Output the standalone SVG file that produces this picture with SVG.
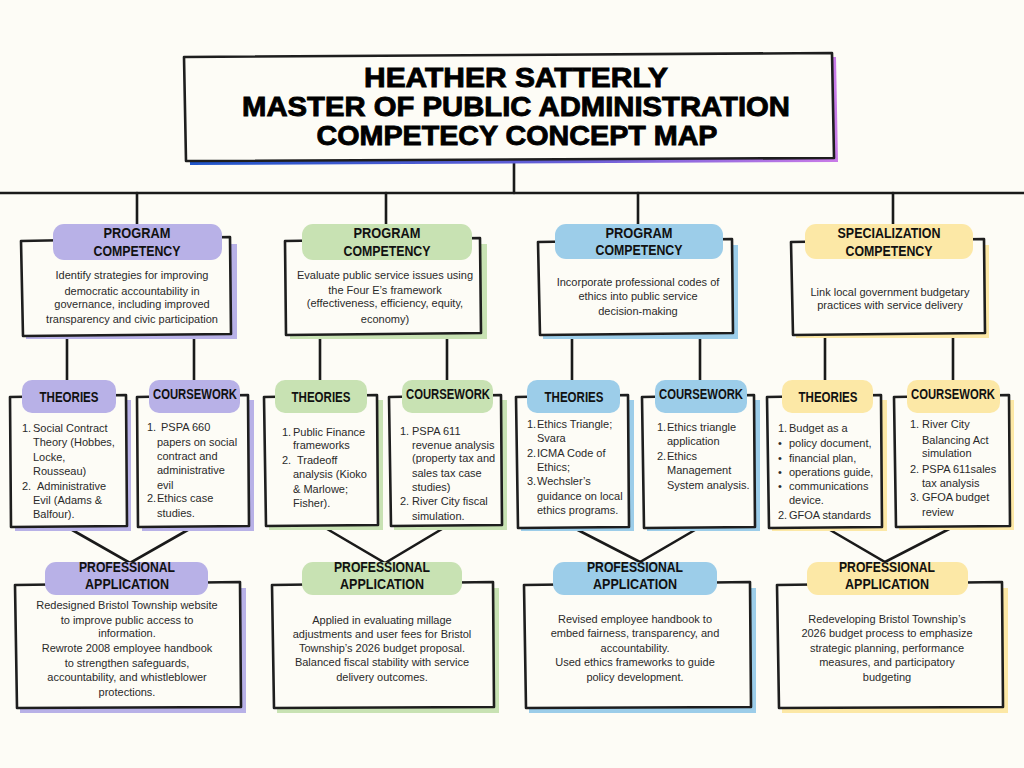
<svg xmlns="http://www.w3.org/2000/svg" width="1024" height="768" viewBox="0 0 1024 768">
<style>
.bg{fill:#fdfcf6}
.box{fill:#fdfcf6;stroke:#1e1e1e;stroke-width:2.6;stroke-linejoin:round}
.conn{stroke:#1a1a1a;stroke-width:2.6;fill:none;stroke-linecap:round}
.pu{fill:#b8b1e7}.gr{fill:#c8e2b3}.bl{fill:#9ccde9}.ye{fill:#fce8a6}
.hd{font-family:"Liberation Sans",Arial,sans-serif;font-weight:bold;font-size:15px;fill:#111;text-anchor:middle}
.tt{font-family:"Liberation Sans",Arial,sans-serif;font-weight:900;font-size:28px;fill:#000;stroke:#000;stroke-width:0.9;text-anchor:middle}
.tx{font-family:"Liberation Sans",Arial,sans-serif;font-size:11px;fill:#2a2a2a}
.m{text-anchor:middle}
</style>
<defs>
<linearGradient id="tg" x1="0" y1="0" x2="1" y2="0">
<stop offset="0" stop-color="#1f55c9"/>
<stop offset="0.6" stop-color="#6a5fd8"/>
<stop offset="1" stop-color="#c97be8"/>
</linearGradient>
</defs>
<rect class="bg" x="0" y="0" width="1024" height="768"/>

<g id="connectors">
<path class="conn" d="M514,160 L514,193"/>
<path class="conn" d="M0,193 L1024,193"/>
<path class="conn" d="M137,193 L137,226 M386,193 L386,226 M638,193 L638,226 M893,193 L893,226"/>
<path class="conn" d="M67,335 L67,382 M194,335 L194,382"/>
<path class="conn" d="M320,333 L320,382 M447,333 L447,382"/>
<path class="conn" d="M572,333 L572,382 M700,333 L700,382"/>
<path class="conn" d="M825,333 L825,382 M953,333 L953,382"/>
<path class="conn" d="M67,527 L130,563 L193,527"/>
<path class="conn" d="M322,526 L385,563 L447,526"/>
<path class="conn" d="M572,527 L640,562 L700,527"/>
<path class="conn" d="M825,527 L885,562 L953,527"/>
</g>

<g id="title">
<path fill="url(#tg)" d="M188,61 L836,57 L838,162 L190,165 Z"/>
<path class="box" d="M184,57 L832,53 L834,158 L186,161 Z"/>
<text class="tt" x="516" y="87" textLength="304" lengthAdjust="spacingAndGlyphs">HEATHER SATTERLY</text>
<text class="tt" x="516" y="116" textLength="548" lengthAdjust="spacingAndGlyphs">MASTER OF PUBLIC ADMINISTRATION</text>
<text class="tt" x="517" y="145" textLength="401" lengthAdjust="spacingAndGlyphs">COMPETECY CONCEPT MAP</text>
</g>

<!-- Column 1 -->
<g id="comp1">
<rect class="pu" x="26" y="244" width="211" height="95"/>
<path class="box" d="M21,241 L230,237 L231,334 L23,336 Z"/>
<rect class="pu" x="53" y="224" width="169" height="36" rx="11"/>
<text class="hd" x="137" y="238" textLength="67" lengthAdjust="spacingAndGlyphs">PROGRAM</text>
<text class="hd" x="137" y="256" textLength="87" lengthAdjust="spacingAndGlyphs">COMPETENCY</text>
<text class="tx m" x="132" y="279">Identify strategies for improving</text>
<text class="tx m" x="132" y="295">democratic accountability in</text>
<text class="tx m" x="132" y="308">governance, including improved</text>
<text class="tx m" x="132" y="323">transparency and civic participation</text>
</g>
<g id="theories1">
<rect class="pu" x="15" y="400" width="116" height="131"/>
<path class="box" d="M10,397 L126,395 L127,526 L11,527 Z"/>
<rect class="pu" x="22" y="380" width="94" height="33" rx="10"/>
<text class="hd" x="69" y="402" textLength="59" lengthAdjust="spacingAndGlyphs">THEORIES</text>
<text class="tx" x="22" y="432">1.</text><text class="tx" x="33" y="432">Social Contract</text>
<text class="tx" x="33" y="446">Theory (Hobbes,</text>
<text class="tx" x="33" y="461">Locke,</text>
<text class="tx" x="33" y="475">Rousseau)</text>
<text class="tx" x="22" y="490">2.</text><text class="tx" x="37" y="490">Administrative</text>
<text class="tx" x="33" y="504">Evil (Adams &amp;</text>
<text class="tx" x="33" y="518">Balfour).</text>
</g>
<g id="coursework1">
<rect class="pu" x="142" y="400" width="112" height="131"/>
<path class="box" d="M137,397 L248,395 L249,526 L138,527 Z"/>
<rect class="pu" x="149" y="380" width="91" height="33" rx="10"/>
<text class="hd" x="195" y="399" textLength="84" lengthAdjust="spacingAndGlyphs">COURSEWORK</text>
<text class="tx" x="147" y="431">1.</text><text class="tx" x="161" y="431">PSPA 660</text>
<text class="tx" x="157" y="446">papers on social</text>
<text class="tx" x="157" y="460">contract and</text>
<text class="tx" x="157" y="474">administrative</text>
<text class="tx" x="157" y="489">evil</text>
<text class="tx" x="147" y="502">2.</text><text class="tx" x="157" y="502">Ethics case</text>
<text class="tx" x="157" y="517">studies.</text>
</g>
<g id="app1">
<rect class="pu" x="20" y="588" width="226" height="125"/>
<path class="box" d="M15,585 L240,582 L241,707 L17,708 Z"/>
<rect class="pu" x="45" y="562" width="163" height="33" rx="11"/>
<text class="hd" x="127" y="572" textLength="96" lengthAdjust="spacingAndGlyphs">PROFESSIONAL</text>
<text class="hd" x="127" y="589" textLength="84" lengthAdjust="spacingAndGlyphs">APPLICATION</text>
<text class="tx m" x="127" y="609">Redesigned Bristol Township website</text>
<text class="tx m" x="127" y="624">to improve public access to</text>
<text class="tx m" x="127" y="637">information.</text>
<text class="tx m" x="127" y="652">Rewrote 2008 employee handbook</text>
<text class="tx m" x="127" y="667">to strengthen safeguards,</text>
<text class="tx m" x="127" y="681">accountability, and whistleblower</text>
<text class="tx m" x="127" y="696">protections.</text>
</g>

<!-- Column 2 -->
<g id="comp2">
<rect class="gr" x="290" y="244" width="197" height="95"/>
<path class="box" d="M285,241 L480,238 L481,333 L286,335 Z"/>
<rect class="gr" x="302" y="224" width="170" height="36" rx="11"/>
<text class="hd" x="387" y="238" textLength="67" lengthAdjust="spacingAndGlyphs">PROGRAM</text>
<text class="hd" x="387" y="256" textLength="87" lengthAdjust="spacingAndGlyphs">COMPETENCY</text>
<text class="tx m" x="385" y="279">Evaluate public service issues using</text>
<text class="tx m" x="385" y="294">the Four E’s framework</text>
<text class="tx m" x="385" y="307">(effectiveness, efficiency, equity,</text>
<text class="tx m" x="385" y="323">economy)</text>
</g>
<g id="theories2">
<rect class="gr" x="269" y="400" width="114" height="130"/>
<path class="box" d="M264,397 L377,395 L378,525 L266,526 Z"/>
<rect class="gr" x="275" y="380" width="92" height="33" rx="10"/>
<text class="hd" x="321" y="402" textLength="59" lengthAdjust="spacingAndGlyphs">THEORIES</text>
<text class="tx" x="282" y="436">1.</text><text class="tx" x="293" y="436">Public Finance</text>
<text class="tx" x="293" y="449">frameworks</text>
<text class="tx" x="282" y="464">2.</text><text class="tx" x="297" y="464">Tradeoff</text>
<text class="tx" x="293" y="478">analysis (Kioko</text>
<text class="tx" x="293" y="493">&amp; Marlowe;</text>
<text class="tx" x="293" y="507">Fisher).</text>
</g>
<g id="coursework2">
<rect class="gr" x="394" y="400" width="113" height="130"/>
<path class="box" d="M389,397 L501,395 L502,525 L391,526 Z"/>
<rect class="gr" x="402" y="380" width="91" height="33" rx="10"/>
<text class="hd" x="448" y="399" textLength="84" lengthAdjust="spacingAndGlyphs">COURSEWORK</text>
<text class="tx" x="400" y="435">1.</text><text class="tx" x="412" y="435">PSPA 611</text>
<text class="tx" x="412" y="449">revenue analysis</text>
<text class="tx" x="412" y="462">(property tax and</text>
<text class="tx" x="412" y="477">sales tax case</text>
<text class="tx" x="412" y="491">studies)</text>
<text class="tx" x="400" y="505">2.</text><text class="tx" x="412" y="505">River City fiscal</text>
<text class="tx" x="412" y="520">simulation.</text>
</g>
<g id="app2">
<rect class="gr" x="277" y="588" width="222" height="125"/>
<path class="box" d="M272,585 L493,582 L494,707 L274,708 Z"/>
<rect class="gr" x="302" y="562" width="160" height="33" rx="11"/>
<text class="hd" x="382" y="572" textLength="96" lengthAdjust="spacingAndGlyphs">PROFESSIONAL</text>
<text class="hd" x="382" y="589" textLength="84" lengthAdjust="spacingAndGlyphs">APPLICATION</text>
<text class="tx m" x="382" y="624">Applied in evaluating millage</text>
<text class="tx m" x="382" y="638">adjustments and user fees for Bristol</text>
<text class="tx m" x="382" y="652">Township’s 2026 budget proposal.</text>
<text class="tx m" x="382" y="666">Balanced fiscal stability with service</text>
<text class="tx m" x="382" y="681">delivery outcomes.</text>
</g>

<!-- Column 3 -->
<g id="comp3">
<rect class="bl" x="543" y="245" width="195" height="94"/>
<path class="box" d="M538,242 L732,239 L733,333 L540,335 Z"/>
<rect class="bl" x="555" y="224" width="168" height="35" rx="11"/>
<text class="hd" x="639" y="238" textLength="67" lengthAdjust="spacingAndGlyphs">PROGRAM</text>
<text class="hd" x="639" y="255" textLength="87" lengthAdjust="spacingAndGlyphs">COMPETENCY</text>
<text class="tx m" x="638" y="286">Incorporate professional codes of</text>
<text class="tx m" x="638" y="300">ethics into public service</text>
<text class="tx m" x="638" y="315">decision-making</text>
</g>
<g id="theories3">
<rect class="bl" x="521" y="400" width="113" height="131"/>
<path class="box" d="M516,397 L628,395 L629,527 L518,528 Z"/>
<rect class="bl" x="527" y="380" width="93" height="33" rx="10"/>
<text class="hd" x="574" y="402" textLength="59" lengthAdjust="spacingAndGlyphs">THEORIES</text>
<text class="tx" x="527" y="428">1.</text><text class="tx" x="537" y="428">Ethics Triangle;</text>
<text class="tx" x="537" y="442">Svara</text>
<text class="tx" x="527" y="457">2.</text><text class="tx" x="537" y="457">ICMA Code of</text>
<text class="tx" x="537" y="471">Ethics;</text>
<text class="tx" x="527" y="485">3.</text><text class="tx" x="537" y="485">Wechsler’s</text>
<text class="tx" x="537" y="500">guidance on local</text>
<text class="tx" x="537" y="514">ethics programs.</text>
</g>
<g id="coursework3">
<rect class="bl" x="647" y="400" width="113" height="131"/>
<path class="box" d="M642,397 L754,395 L755,527 L644,528 Z"/>
<rect class="bl" x="655" y="380" width="92" height="33" rx="10"/>
<text class="hd" x="701" y="399" textLength="84" lengthAdjust="spacingAndGlyphs">COURSEWORK</text>
<text class="tx" x="657" y="431">1.</text><text class="tx" x="667" y="431">Ethics triangle</text>
<text class="tx" x="667" y="445">application</text>
<text class="tx" x="657" y="460">2.</text><text class="tx" x="667" y="460">Ethics</text>
<text class="tx" x="667" y="474">Management</text>
<text class="tx" x="667" y="489">System analysis.</text>
</g>
<g id="app3">
<rect class="bl" x="529" y="588" width="227" height="125"/>
<path class="box" d="M524,585 L750,582 L751,707 L526,708 Z"/>
<rect class="bl" x="553" y="562" width="164" height="33" rx="11"/>
<text class="hd" x="635" y="572" textLength="96" lengthAdjust="spacingAndGlyphs">PROFESSIONAL</text>
<text class="hd" x="635" y="589" textLength="84" lengthAdjust="spacingAndGlyphs">APPLICATION</text>
<text class="tx m" x="635" y="623">Revised employee handbook to</text>
<text class="tx m" x="635" y="637">embed fairness, transparency, and</text>
<text class="tx m" x="635" y="652">accountability.</text>
<text class="tx m" x="635" y="666">Used ethics frameworks to guide</text>
<text class="tx m" x="635" y="681">policy development.</text>
</g>

<!-- Column 4 -->
<g id="comp4">
<rect class="ye" x="796" y="245" width="193" height="93"/>
<path class="box" d="M791,242 L984,239 L985,333 L793,335 Z"/>
<rect class="ye" x="805" y="224" width="168" height="35" rx="11"/>
<text class="hd" x="889" y="238" textLength="103" lengthAdjust="spacingAndGlyphs">SPECIALIZATION</text>
<text class="hd" x="889" y="256" textLength="87" lengthAdjust="spacingAndGlyphs">COMPETENCY</text>
<text class="tx m" x="890" y="296">Link local government budgetary</text>
<text class="tx m" x="890" y="309">practices with service delivery</text>
</g>
<g id="theories4">
<rect class="ye" x="772" y="400" width="115" height="131"/>
<path class="box" d="M767,397 L881,395 L882,527 L769,528 Z"/>
<rect class="ye" x="782" y="380" width="91" height="33" rx="10"/>
<text class="hd" x="828" y="402" textLength="59" lengthAdjust="spacingAndGlyphs">THEORIES</text>
<text class="tx" x="778" y="432">1.</text><text class="tx" x="789" y="432">Budget as a</text>
<text class="tx" x="778" y="447">•</text><text class="tx" x="789" y="447">policy document,</text>
<text class="tx" x="778" y="462">•</text><text class="tx" x="789" y="462">financial plan,</text>
<text class="tx" x="778" y="476">•</text><text class="tx" x="789" y="476">operations guide,</text>
<text class="tx" x="778" y="490">•</text><text class="tx" x="789" y="490">communications</text>
<text class="tx" x="789" y="504">device.</text>
<text class="tx" x="778" y="519">2.</text><text class="tx" x="789" y="519">GFOA standards</text>
</g>
<g id="coursework4">
<rect class="ye" x="899" y="400" width="115" height="130"/>
<path class="box" d="M894,397 L1009,395 L1010,526 L896,527 Z"/>
<rect class="ye" x="907" y="380" width="93" height="33" rx="10"/>
<text class="hd" x="953" y="399" textLength="84" lengthAdjust="spacingAndGlyphs">COURSEWORK</text>
<text class="tx" x="910" y="428">1.</text><text class="tx" x="922" y="428">River City</text>
<text class="tx" x="922" y="444">Balancing Act</text>
<text class="tx" x="922" y="457">simulation</text>
<text class="tx" x="910" y="473">2.</text><text class="tx" x="922" y="473">PSPA 611sales</text>
<text class="tx" x="922" y="487">tax analysis</text>
<text class="tx" x="910" y="501">3.</text><text class="tx" x="922" y="501">GFOA budget</text>
<text class="tx" x="922" y="516">review</text>
</g>
<g id="app4">
<rect class="ye" x="782" y="588" width="226" height="125"/>
<path class="box" d="M777,585 L1002,582 L1003,707 L779,708 Z"/>
<rect class="ye" x="807" y="562" width="161" height="33" rx="11"/>
<text class="hd" x="887" y="572" textLength="96" lengthAdjust="spacingAndGlyphs">PROFESSIONAL</text>
<text class="hd" x="887" y="589" textLength="84" lengthAdjust="spacingAndGlyphs">APPLICATION</text>
<text class="tx m" x="887" y="623">Redeveloping Bristol Township’s</text>
<text class="tx m" x="887" y="637">2026 budget process to emphasize</text>
<text class="tx m" x="887" y="652">strategic planning, performance</text>
<text class="tx m" x="887" y="666">measures, and participatory</text>
<text class="tx m" x="887" y="681">budgeting</text>
</g>
</svg>
